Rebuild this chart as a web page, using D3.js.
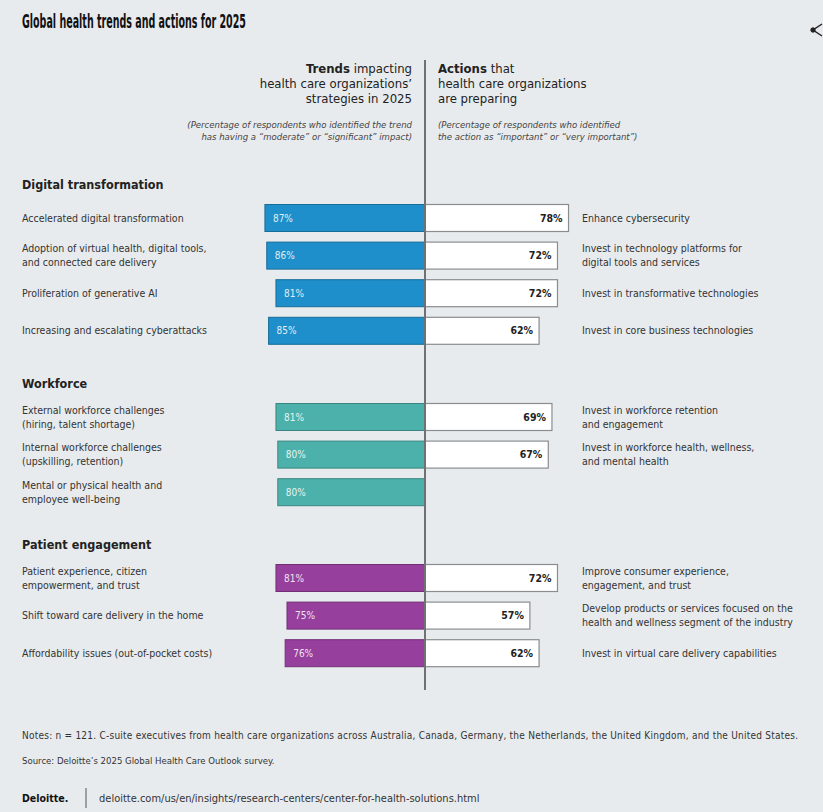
<!DOCTYPE html>
<html lang="en">
<head>
    <meta charset="UTF-8">
    <title>Global health trends and actions for 2025</title>
    <script src="https://cdn.jsdelivr.net/npm/d3@7"></script>
    <style>
        body { margin: 0; background: #e8ebee; }
        svg { display: block; font-family: "Liberation Sans Narrow", "DejaVu Sans Condensed", "Roboto", sans-serif; }
    </style>
</head>
<body>
<div id="chart-space"></div>
<script>
    // categories and values
    var groups = ["Digital transformation", "Workforce", "Patient engagement"];
    var groupColors = ["#1e8fca", "#4db1ab", "#973f9d"];

    var trends = [
        ["Accelerated digital transformation", "Adoption of virtual health, digital tools,\nand connected care delivery", "Proliferation of generative AI", "Increasing and escalating cyberattacks"],
        ["External workforce challenges\n(hiring, talent shortage)", "Internal workforce challenges\n(upskilling, retention)", "Mental or physical health and\nemployee well-being"],
        ["Patient experience, citizen\nempowerment, and trust", "Shift toward care delivery in the home", "Affordability issues (out-of-pocket costs)"]
    ];
    var trendValues = [[87, 86, 81, 85], [81, 80, 80], [81, 75, 76]];

    var actions = [
        ["Enhance cybersecurity", "Invest in technology platforms for\ndigital tools and services", "Invest in transformative technologies", "Invest in core business technologies"],
        ["Invest in workforce retention\nand engagement", "Invest in workforce health, wellness,\nand mental health", null],
        ["Improve consumer experience,\nengagement, and trust", "Develop products or services focused on the\nhealth and wellness segment of the industry", "Invest in virtual care delivery capabilities"]
    ];
    var actionValues = [[78, 72, 72, 62], [69, 67, null], [72, 57, 62]];

    var width = 823;
    var height = 812;
    var centerX = 425;
    var groupTops = [185, 384, 545];
    var rowStep = 37.6;
    var barHeight = 27;

    var svg = d3.select("#chart-space")
                .append("svg")
                .attr("width", width)
                .attr("height", height);

    svg.append("rect").attr("width", width).attr("height", height).attr("fill", "#e8ebee");

    // title
    svg.append("text")
        .attr("x", 22).attr("y", 28)
        .attr("font-size", 20).attr("font-weight", 900).attr("fill", "#111")
        .attr("textLength", 224).attr("lengthAdjust", "spacingAndGlyphs")
        .text("Global health trends and actions for 2025");

    // little share icon at the right edge
    var share = svg.append("g").attr("stroke", "#222").attr("fill", "#222");
    share.append("path").attr("d", "M822,24 L813,30 L822,36").attr("fill", "none").attr("stroke-width", 1.5);
    share.append("circle").attr("cx", 813).attr("cy", 30).attr("r", 2.2);

    // column headers
    var leftHead = svg.append("g").attr("text-anchor", "end").attr("fill", "#222");
    var lh = leftHead.append("text").attr("x", 412).attr("y", 73).attr("font-size", 13);
    lh.append("tspan").attr("font-weight", 700).text("Trends");
    lh.append("tspan").text(" impacting");
    leftHead.append("text").attr("x", 412).attr("y", 88).attr("font-size", 13).text("health care organizations’");
    leftHead.append("text").attr("x", 412).attr("y", 103).attr("font-size", 13).text("strategies in 2025");
    leftHead.append("text").attr("x", 412).attr("y", 128).attr("font-size", 9.5).attr("font-style", "italic").attr("fill", "#444")
        .text("(Percentage of respondents who identified the trend");
    leftHead.append("text").attr("x", 412).attr("y", 140).attr("font-size", 9.5).attr("font-style", "italic").attr("fill", "#444")
        .text("has having a “moderate” or “significant” impact)");

    var rightHead = svg.append("g").attr("fill", "#222");
    var rh = rightHead.append("text").attr("x", 438).attr("y", 73).attr("font-size", 13);
    rh.append("tspan").attr("font-weight", 700).text("Actions");
    rh.append("tspan").text(" that");
    rightHead.append("text").attr("x", 438).attr("y", 88).attr("font-size", 13).text("health care organizations");
    rightHead.append("text").attr("x", 438).attr("y", 103).attr("font-size", 13).text("are preparing");
    rightHead.append("text").attr("x", 438).attr("y", 128).attr("font-size", 9.5).attr("font-style", "italic").attr("fill", "#444")
        .text("(Percentage of respondents who identified");
    rightHead.append("text").attr("x", 438).attr("y", 140).attr("font-size", 9.5).attr("font-style", "italic").attr("fill", "#444")
        .text("the action as “important” or “very important”)");

    // bar length scale, shared by both sides
    var xScale = d3.scaleLinear()
                    .domain([0, 100])
                    .range([0, 184]);

    function multiline(sel, str, x, y, lineH) {
        var lines = str.split("\n");
        var t = sel.append("text").attr("x", x).attr("y", y - (lines.length - 1) * lineH / 2);
        lines.forEach(function(l, i) {
            t.append("tspan").attr("x", x).attr("dy", i === 0 ? "0.35em" : lineH).text(l);
        });
        return t;
    }

    groups.forEach(function(g, gi) {
        var top = groupTops[gi];
        var yScale = d3.scaleLinear().domain([0, 1]).range([top + 33, top + 33 + rowStep]);

        svg.append("text")
            .attr("x", 22).attr("y", top).attr("dy", "0.35em")
            .attr("font-size", 12.5).attr("font-weight", 700).attr("fill", "#222")
            .text(g);

        var rows = trends[gi].map(function(t, i) {
            return {trend: t, tv: trendValues[gi][i], action: actions[gi][i], av: actionValues[gi][i], i: i};
        });

        var grp = svg.append("g");

        // left bars (trends)
        grp.selectAll("rect.left")
            .data(rows)
            .join("rect")
            .attr("class", "left")
            .attr("x", function(d){ return centerX - xScale(d.tv); })
            .attr("y", function(d){ return yScale(d.i) - barHeight / 2; })
            .attr("width", function(d){ return xScale(d.tv); })
            .attr("height", barHeight)
            .attr("fill", groupColors[gi])
            .attr("stroke", d3.color(groupColors[gi]).darker(0.8))
            .attr("stroke-width", 1);

        grp.selectAll("text.lv")
            .data(rows)
            .join("text")
            .attr("class", "lv")
            .attr("x", function(d){ return centerX - xScale(d.tv) + 8; })
            .attr("y", function(d){ return yScale(d.i); })
            .attr("dy", "0.35em")
            .attr("font-size", 10).attr("fill", "#fff").attr("opacity", 0.85)
            .text(function(d){ return d.tv + "%"; });

        // right bars (actions)
        var withAction = rows.filter(function(d){ return d.av != null; });
        grp.selectAll("rect.right")
            .data(withAction)
            .join("rect")
            .attr("class", "right")
            .attr("x", centerX)
            .attr("y", function(d){ return yScale(d.i) - barHeight / 2; })
            .attr("width", function(d){ return xScale(d.av); })
            .attr("height", barHeight)
            .attr("fill", "#fff")
            .attr("stroke", "#8a8d90")
            .attr("stroke-width", 1.2);

        grp.selectAll("text.rv")
            .data(withAction)
            .join("text")
            .attr("class", "rv")
            .attr("x", function(d){ return centerX + xScale(d.av) - 6; })
            .attr("y", function(d){ return yScale(d.i); })
            .attr("dy", "0.35em")
            .attr("text-anchor", "end")
            .attr("font-size", 10.5).attr("font-weight", 700).attr("fill", "#222")
            .text(function(d){ return d.av + "%"; });

        // category labels
        rows.forEach(function(d) {
            multiline(grp, d.trend, 22, yScale(d.i), 14)
                .attr("font-size", 10.5).attr("fill", "#333");
            if (d.action) {
                multiline(grp, d.action, 582, yScale(d.i), 14)
                    .attr("font-size", 10.5).attr("fill", "#333");
            }
        });
    });

    // center divider
    svg.append("line")
        .attr("x1", centerX).attr("x2", centerX)
        .attr("y1", 60).attr("y2", 690)
        .attr("stroke", "#6f7275").attr("stroke-width", 2);

    // notes
    svg.append("text").attr("x", 22).attr("y", 735).attr("dy", "0.35em")
        .attr("font-size", 10).attr("fill", "#333")
        .attr("textLength", 776).attr("lengthAdjust", "spacing")
        .text("Notes: n = 121. C-suite executives from health care organizations across Australia, Canada, Germany, the Netherlands, the United Kingdom, and the United States.");
    svg.append("text").attr("x", 22).attr("y", 761).attr("dy", "0.35em")
        .attr("font-size", 9.5).attr("fill", "#333")
        .text("Source: Deloitte’s 2025 Global Health Care Outlook survey.");

    svg.append("text").attr("x", 22).attr("y", 798).attr("dy", "0.35em")
        .attr("font-size", 10.5).attr("font-weight", 700).attr("fill", "#111")
        .text("Deloitte.");
    svg.append("line").attr("x1", 86).attr("x2", 86).attr("y1", 788).attr("y2", 808)
        .attr("stroke", "#555").attr("stroke-width", 1);
    svg.append("text").attr("x", 99).attr("y", 798).attr("dy", "0.35em")
        .attr("font-size", 11).attr("fill", "#333")
        .text("deloitte.com/us/en/insights/research-centers/center-for-health-solutions.html");
</script>
</body>
</html>
